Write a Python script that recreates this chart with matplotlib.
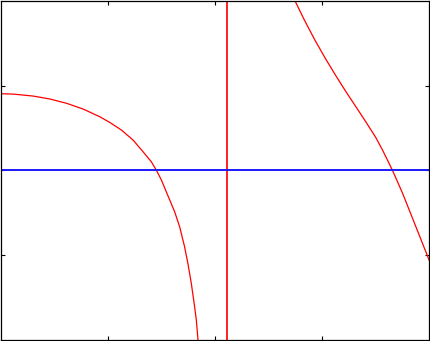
import numpy as np
import matplotlib; matplotlib.use("Agg")
import matplotlib.pyplot as plt

# left branch of the red curve
LEFT_X = [0.0, 0.11, 0.294, 0.453, 0.609, 0.764, 0.920, 1.02, 1.122, 1.231,
          1.324, 1.402, 1.449, 1.496, 1.557, 1.620, 1.667, 1.713, 1.744,
          1.776, 1.807, 1.823, 1.838, 1.85]
LEFT_Y = [0.904, 0.90, 0.877, 0.842, 0.791, 0.723, 0.632, 0.560, 0.475, 0.357,
          0.219, 0.100, 0.0, -0.115, -0.300, -0.490, -0.668, -0.904, -1.100,
          -1.337, -1.613, -1.771, -1.995, -2.2]

# right branch of the red curve
RIGHT_X = [2.71, 2.747, 2.834, 2.932, 3.030, 3.123, 3.223, 3.319, 3.410, 3.503,
           3.565, 3.658, 3.752, 3.845, 3.938, 3.991, 4.0]
RIGHT_Y = [2.1, 2.0, 1.775, 1.539, 1.322, 1.128, 0.928, 0.745, 0.570, 0.385,
           0.239, 0.0, -0.270, -0.565, -0.860, -1.030, -1.06]

ASYMPTOTE_X = 2.106   # vertical red jump
BASELINE_Y = 0.0      # blue horizontal line

XLIM = (0, 4)
YLIM = (-2, 2)
XTICKS = [1, 2, 3]
YTICKS = [-1, 0, 1]

fig = plt.figure(figsize=(4.31, 3.41), dpi=100)
ax = fig.add_axes([1.5 / 431, 1.5 / 341, 427.5 / 431, 338.5 / 341])

ax.plot(LEFT_X, LEFT_Y, color="#ff0000", lw=0.9)
ax.plot(RIGHT_X, RIGHT_Y, color="#ff0000", lw=0.9)
ax.axvline(ASYMPTOTE_X, color="#ff2020", lw=1.4)
ax.axhline(BASELINE_Y, color="#1a1aff", lw=1.4)

ax.set_xlim(*XLIM); ax.set_ylim(*YLIM)
ax.set_xticks(XTICKS); ax.set_yticks(YTICKS)
ax.tick_params(direction="in", length=3, width=0.8, top=True, right=True,
               labelbottom=False, labelleft=False)
for s in ax.spines.values():
    s.set_linewidth(0.9)

fig.savefig("out.png", dpi=100)
